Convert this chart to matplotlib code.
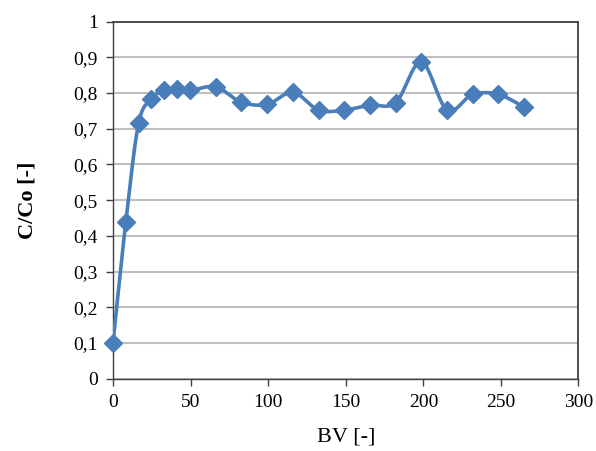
import matplotlib
matplotlib.use("Agg")
import matplotlib.pyplot as plt
import numpy as np

# breakthrough data
bv = [0, 8.3, 16.5, 24.8, 33.1, 41.4, 49.7, 66.2, 82.8, 99.4, 115.9,
      132.5, 149.0, 165.6, 182.2, 198.7, 215.3, 231.8, 248.4, 265.0]
c_co = [0.10, 0.44, 0.715, 0.783, 0.808, 0.811, 0.807, 0.817, 0.774, 0.768, 0.802,
        0.752, 0.752, 0.766, 0.773, 0.887, 0.752, 0.796, 0.796, 0.760]

y_ticks = [0, 0.1, 0.2, 0.3, 0.4, 0.5, 0.6, 0.7, 0.8, 0.9, 1.0]
y_labels = ["0", "0,1", "0,2", "0,3", "0,4", "0,5", "0,6", "0,7", "0,8", "0,9", "1"]
x_ticks = [0, 50, 100, 150, 200, 250, 300]

blue = "#4A7EBB"


def smooth(xs, ys, n=30):
    # excel style smoothed line: bezier segments, catmull-rom control points
    p = np.column_stack([xs, ys])
    pts = []
    for i in range(len(p) - 1):
        p0 = p[i - 1] if i > 0 else p[i]
        p1 = p[i]
        p2 = p[i + 1]
        p3 = p[i + 2] if i + 2 < len(p) else p[i + 1]
        c1 = p1 + (p2 - p0) / 6.0
        c2 = p2 - (p3 - p1) / 6.0
        t = np.linspace(0, 1, n)[:, None]
        seg = ((1 - t) ** 3) * p1 + 3 * ((1 - t) ** 2) * t * c1 + 3 * (1 - t) * t ** 2 * c2 + t ** 3 * p2
        pts.append(seg if i == 0 else seg[1:])
    pts = np.vstack(pts)
    return pts[:, 0], pts[:, 1]


plt.rcParams['font.family'] = ['Liberation Serif', 'DejaVu Serif']

fig = plt.figure(figsize=(5.96, 4.51), dpi=100)
ax = fig.add_axes([0.1896, 0.1603, 0.9706 - 0.1896, 0.9523 - 0.1603])

sx, sy = smooth(bv, c_co)
ax.plot(sx, sy, color=blue, lw=2.6, zorder=3, solid_capstyle='round')
ax.plot(bv, c_co, ls='none', marker='D', ms=9, color=blue, zorder=4, clip_on=False)

ax.set_xlim(0, 300)
ax.set_ylim(0, 1)
ax.set_xticks(x_ticks)
ax.set_yticks(y_ticks)
ax.set_yticklabels(y_labels)
ax.yaxis.grid(True, color='#BFBFBF', lw=1.5)
ax.set_axisbelow(True)

for s in ['top', 'right']:
    ax.spines[s].set_color('#404040')
    ax.spines[s].set_linewidth(1.3)
for s in ['left', 'bottom']:
    ax.spines[s].set_color('#404040')
    ax.spines[s].set_linewidth(1.0)

ax.tick_params(direction='out', length=5, width=1, color='#404040',
               labelsize=14, pad=6)

ax.set_xlabel("BV [-]", fontsize=16, labelpad=12)
ax.set_ylabel("C/Co [-]", fontsize=16, fontweight='bold', labelpad=26)

fig.savefig("out.png", dpi=100)
